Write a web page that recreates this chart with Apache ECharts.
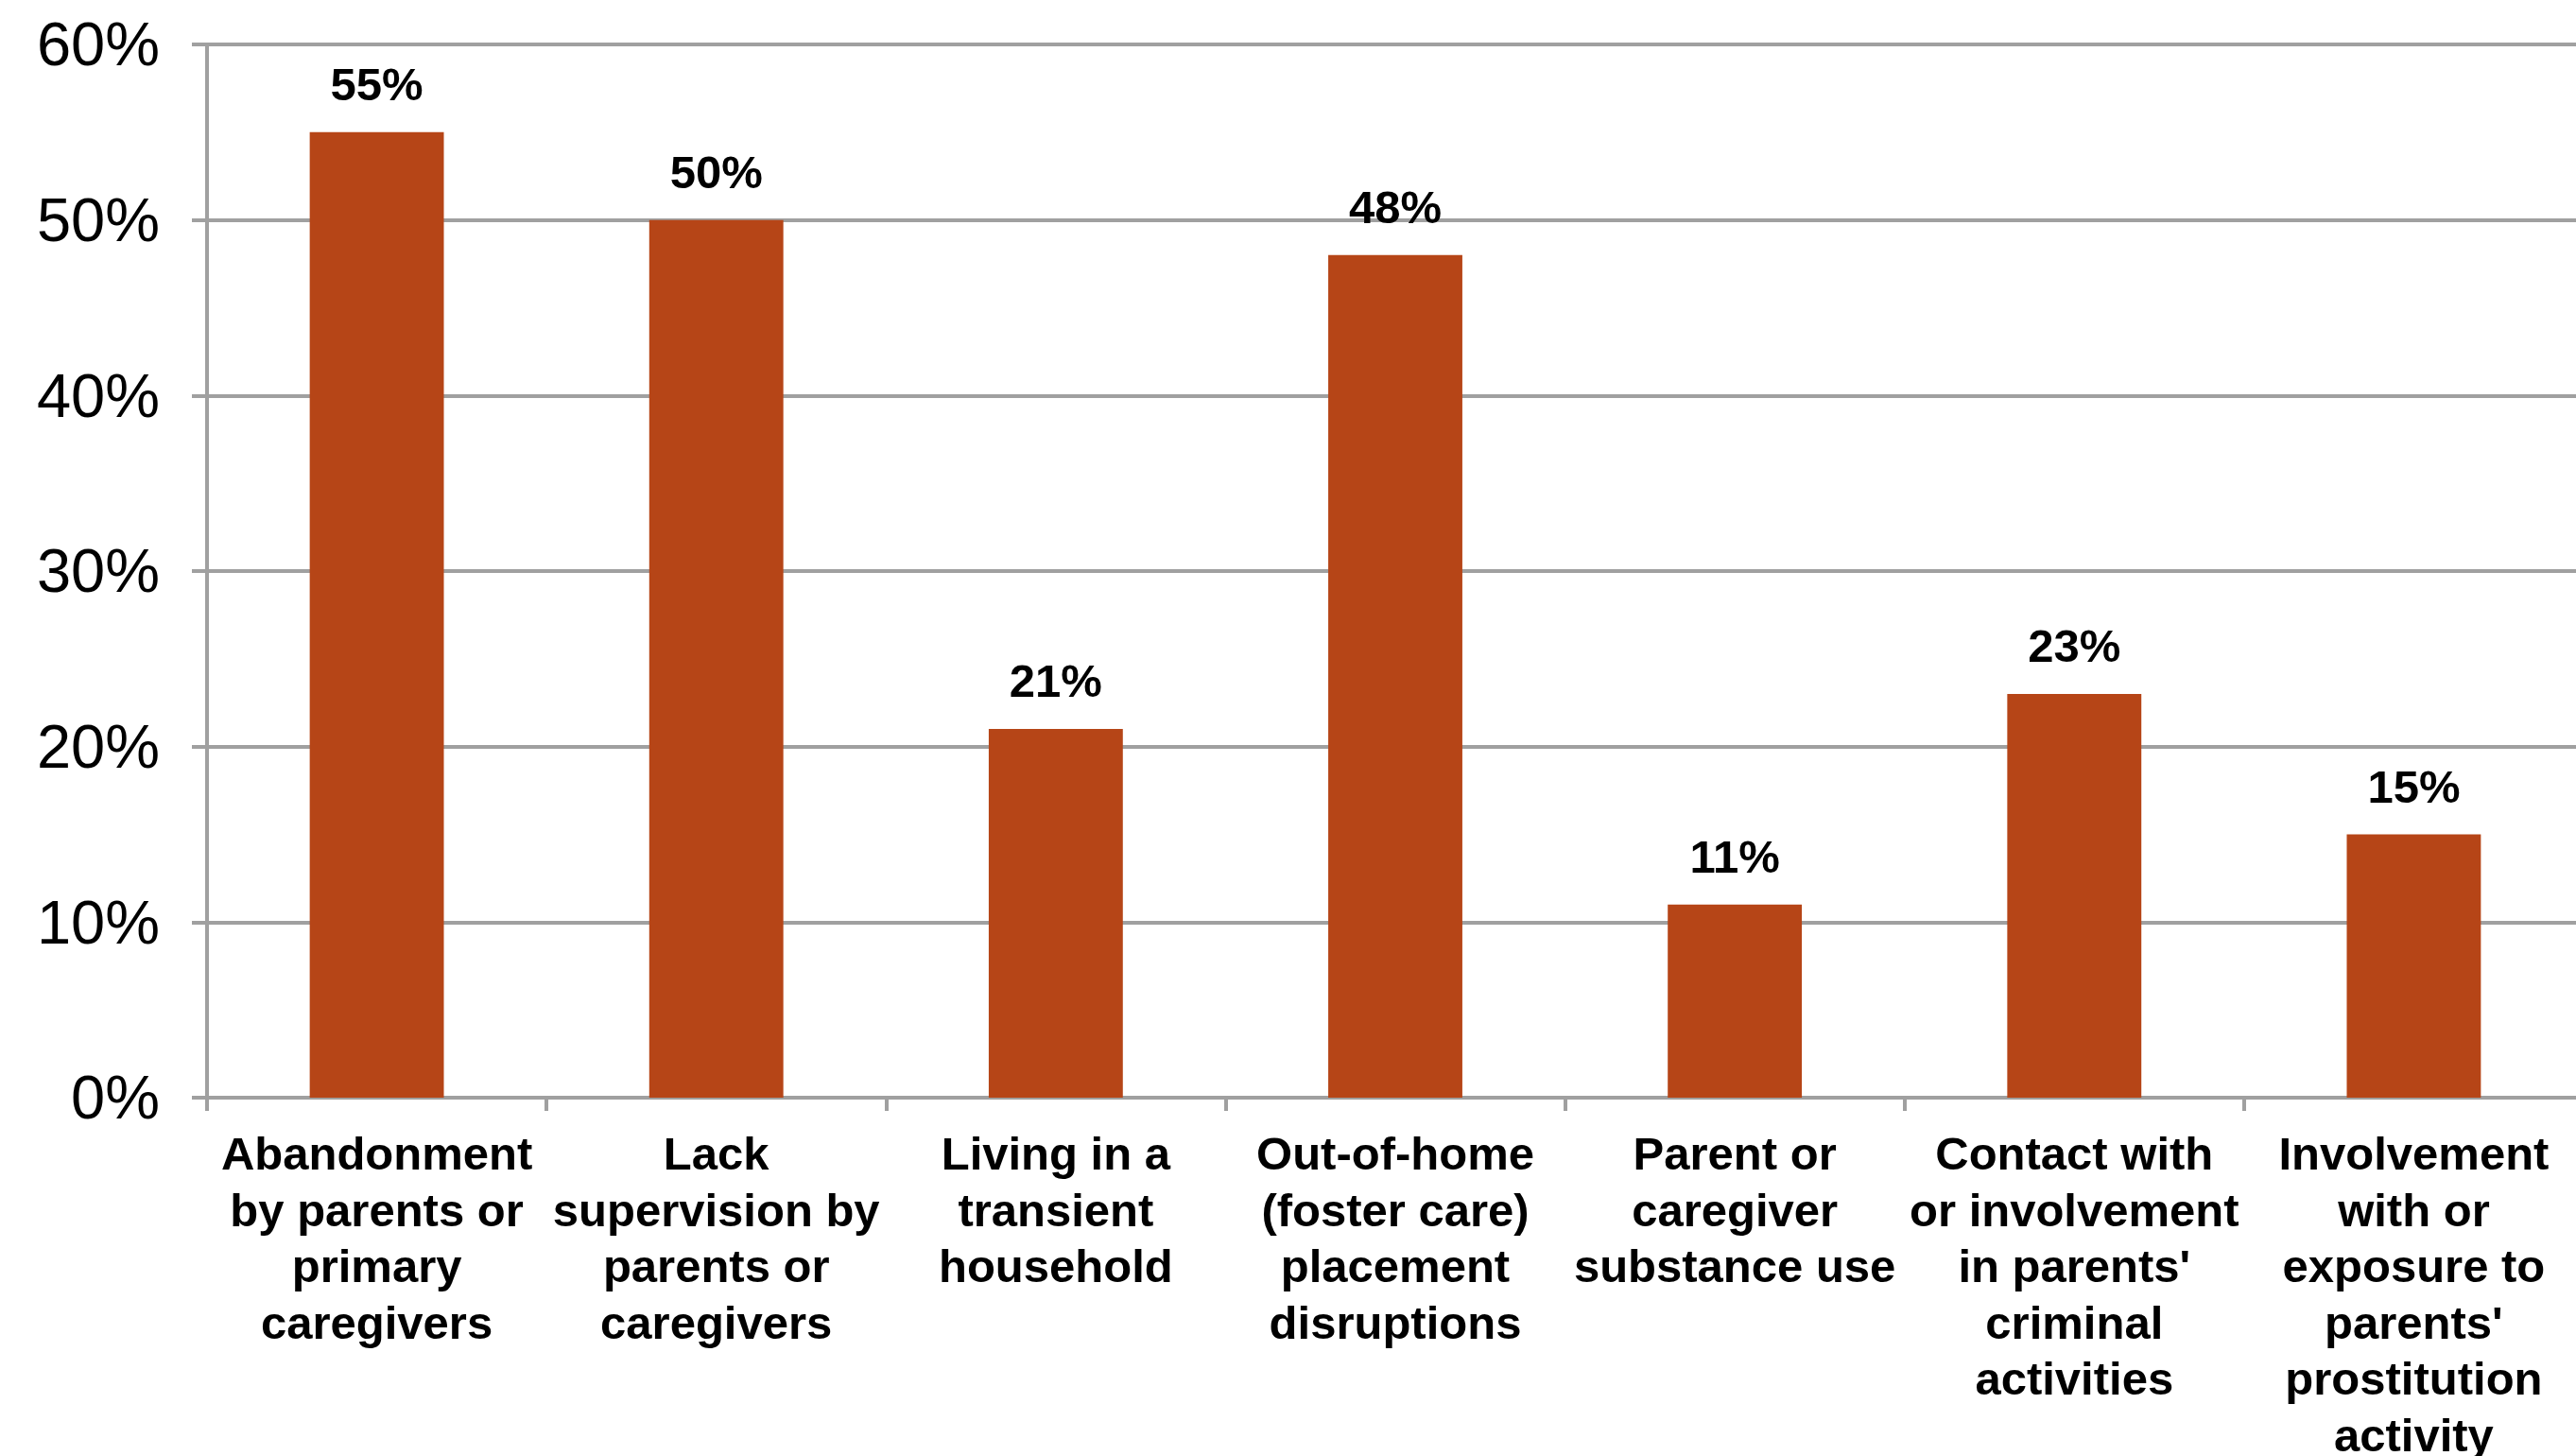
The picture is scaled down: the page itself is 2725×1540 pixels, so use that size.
<!DOCTYPE html>
<html>
<head>
<meta charset="utf-8">
<title>Family risk factors</title>
<script src="https://cdn.jsdelivr.net/npm/echarts@6/dist/echarts.min.js"></script>
<style>
  html, body { margin: 0; padding: 0; background: #ffffff; }
  #chart { width: 2725px; height: 1540px; }
</style>
</head>
<body>
<div id="chart"></div>
<script>
// Category names, already broken into the lines they are shown on
const categories = [
  "Abandonment\nby parents or\nprimary\ncaregivers",
  "Lack\nsupervision by\nparents or\ncaregivers",
  "Living in a\ntransient\nhousehold",
  "Out-of-home\n(foster care)\nplacement\ndisruptions",
  "Parent or\ncaregiver\nsubstance use",
  "Contact with\nor involvement\nin parents'\ncriminal\nactivities",
  "Involvement\nwith or\nexposure to\nparents'\nprostitution\nactivity"
];

// Share of cases (percent)
const percentages = [55, 50, 21, 48, 11, 23, 15];

// Value axis range and step
const yMin = 0;
const yMax = 60;
const yStep = 10;

const FONT = "'Liberation Sans', Helvetica, Arial, sans-serif";
const GRID_GRAY = '#a0a0a0';
const BAR_COLOR = '#b64517';

const chart = echarts.init(document.getElementById('chart'), null, { renderer: 'canvas' });

chart.setOption({
  backgroundColor: '#ffffff',
  animation: false,
  grid: {
    left: 219,
    top: 47,
    width: 2514,
    height: 1114,
    containLabel: false,
    outerBoundsMode: 'none'
  },
  xAxis: {
    type: 'category',
    data: categories,
    boundaryGap: true,
    axisLine: { show: true, lineStyle: { color: GRID_GRAY, width: 4 } },
    axisTick: { show: true, length: 14, lineStyle: { color: GRID_GRAY, width: 4 } },
    axisLabel: {
      interval: 0,
      margin: 33,
      color: '#000000',
      fontFamily: FONT,
      fontWeight: 'bold',
      fontSize: 49,
      lineHeight: 59.5,
      align: 'center'
    },
    splitLine: { show: false }
  },
  yAxis: {
    type: 'value',
    min: yMin,
    max: yMax,
    interval: yStep,
    axisLine: { show: true, lineStyle: { color: GRID_GRAY, width: 4 } },
    axisTick: { show: true, length: 16, lineStyle: { color: GRID_GRAY, width: 4 } },
    axisLabel: {
      margin: 50,
      color: '#000000',
      fontFamily: FONT,
      fontSize: 65,
      // short line box hung from the tick: text sits a few pixels below it
      verticalAlign: 'top',
      lineHeight: 9,
      formatter: '{value}%'
    },
    splitLine: { show: true, lineStyle: { color: GRID_GRAY, width: 4 } }
  },
  series: [{
    type: 'bar',
    data: percentages,
    barWidth: '39.5%',
    itemStyle: { color: BAR_COLOR },
    label: {
      show: true,
      position: 'top',
      distance: 23,
      color: '#000000',
      fontFamily: FONT,
      fontWeight: 'bold',
      fontSize: 49,
      formatter: p => p.value + '%'
    }
  }]
});
</script>
</body>
</html>
